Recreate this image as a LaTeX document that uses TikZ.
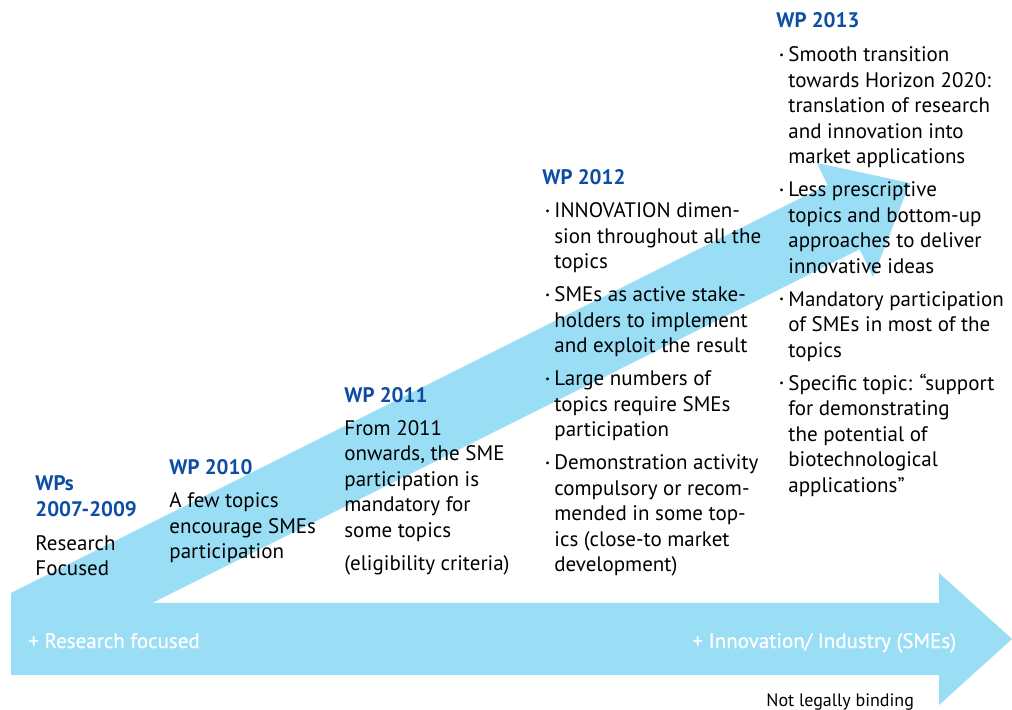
\documentclass[tikz,border=0pt]{standalone}
\usepackage{fontspec}
\setmainfont{PT Sans}
\newfontfamily\arrowfont[FakeBold=0.6]{PT Sans}
\usetikzlibrary{positioning}
\definecolor{arrowblue}{RGB}{154,222,246}
\definecolor{wpblue}{RGB}{14,77,164}
\newlength{\bulw}
\setlength{\bulw}{4.5pt}
\def\itm{\makebox[\bulw][l]{\raisebox{.35ex}{\tiny\textbullet}}}
\def\ind{\hspace*{\bulw}}
\tikzset{
	wphead/.style={anchor=base west, inner sep=0pt, text=wpblue, align=left, font=\fontsize{10.5}{12.75}\selectfont\bfseries},
	wptext/.style={anchor=base west, inner sep=0pt, align=left, font=\fontsize{10.5}{12.75}\selectfont},
	arrowtext/.style={anchor=base west, inner sep=0pt, text=white, font=\arrowfont\fontsize{10.5}{12.75}\selectfont},
}

\begin{document}
\begin{tikzpicture}[x=0.5pt, y=-0.5pt]
		%%%%% START %%%%%
		\useasboundingbox (0, 0) rectangle (1012, 710);
		
		% rising arrow
		\fill[arrowblue] (11, 593) -- (827.4, 184.8) -- (817, 163) -- (910, 183) -- (873, 277) -- (859.6, 249.2) -- (152, 603) -- (11, 603) -- cycle;
		% flat arrow
		\fill[arrowblue] (11, 603) -- (939, 603) -- (939, 573) -- (1012, 639) -- (939, 705) -- (939, 675) -- (11, 675) -- cycle;
		
		\node[arrowtext] (resLabel) at (28, 648) {+ Research focused};
		\node[arrowtext] (innoLabel) at (692, 648) {+ Innovation/ Industry (SMEs)};
		\node[wptext, font=\fontsize{9}{11}\selectfont] (bindLabel) at (766, 706) {Not legally binding};
		
		% blocks sit on the baseline of their last line
		% WPs 2007-2009
		\node[wphead] (wpOld) at (35, 516.5) {WPs\\2007-2009};
		\node[wptext] (txtOld) at (35, 575.5) {Research\\Focused};
		
		% WP 2010
		\node[wphead] (wpTen) at (169, 475) {WP 2010};
		\node[wptext] (txtTen) at (169, 559) {A few topics\\encourage SMEs\\participation};
		
		% WP 2011
		\node[wphead] (wpEleven) at (344, 402.5) {WP 2011};
		\node[wptext] (txtEleven) at (344, 570.5) {From 2011\\onwards, the SME\\participation is\\mandatory for\\some topics\\[3.75pt]
			(eligibility criteria)};
		
		% WP 2012
		\node[wphead] (wpTwelve) at (542, 185) {WP 2012};
		\node[wptext] (txtTwelve) at (545, 572) {\itm INNOVATION dimen-\\\ind sion throughout all the\\\ind topics\\[3.75pt]
			\itm SMEs as active stake-\\\ind holders to implement\\\ind and exploit the result\\[3.75pt]
			\itm Large numbers of\\\ind topics require SMEs\\\ind participation\\[3.75pt]
			\itm Demonstration activity\\\ind compulsory or recom-\\\ind mended in some top-\\\ind ics (close-to market\\\ind development)};
		
		% WP 2013
		\node[wphead] (wpThirteen) at (776, 28) {WP 2013};
		\node[wptext] (txtThirteen) at (779, 492.5) {\itm Smooth transition\\\ind towards Horizon 2020:\\\ind translation of research\\\ind and innovation into\\\ind market applications\\[3.75pt]
			\itm Less prescriptive\\\ind topics and bottom-up\\\ind approaches to deliver\\\ind innovative ideas\\[3.75pt]
			\itm Mandatory participation\\\ind of SMEs in most of the\\\ind topics\\[3.75pt]
			\itm Specific topic: “support\\\ind for demonstrating\\\ind the potential of\\\ind biotechnological\\\ind applications”};
		%%%%% END %%%%%
	\end{tikzpicture}
\end{document}
